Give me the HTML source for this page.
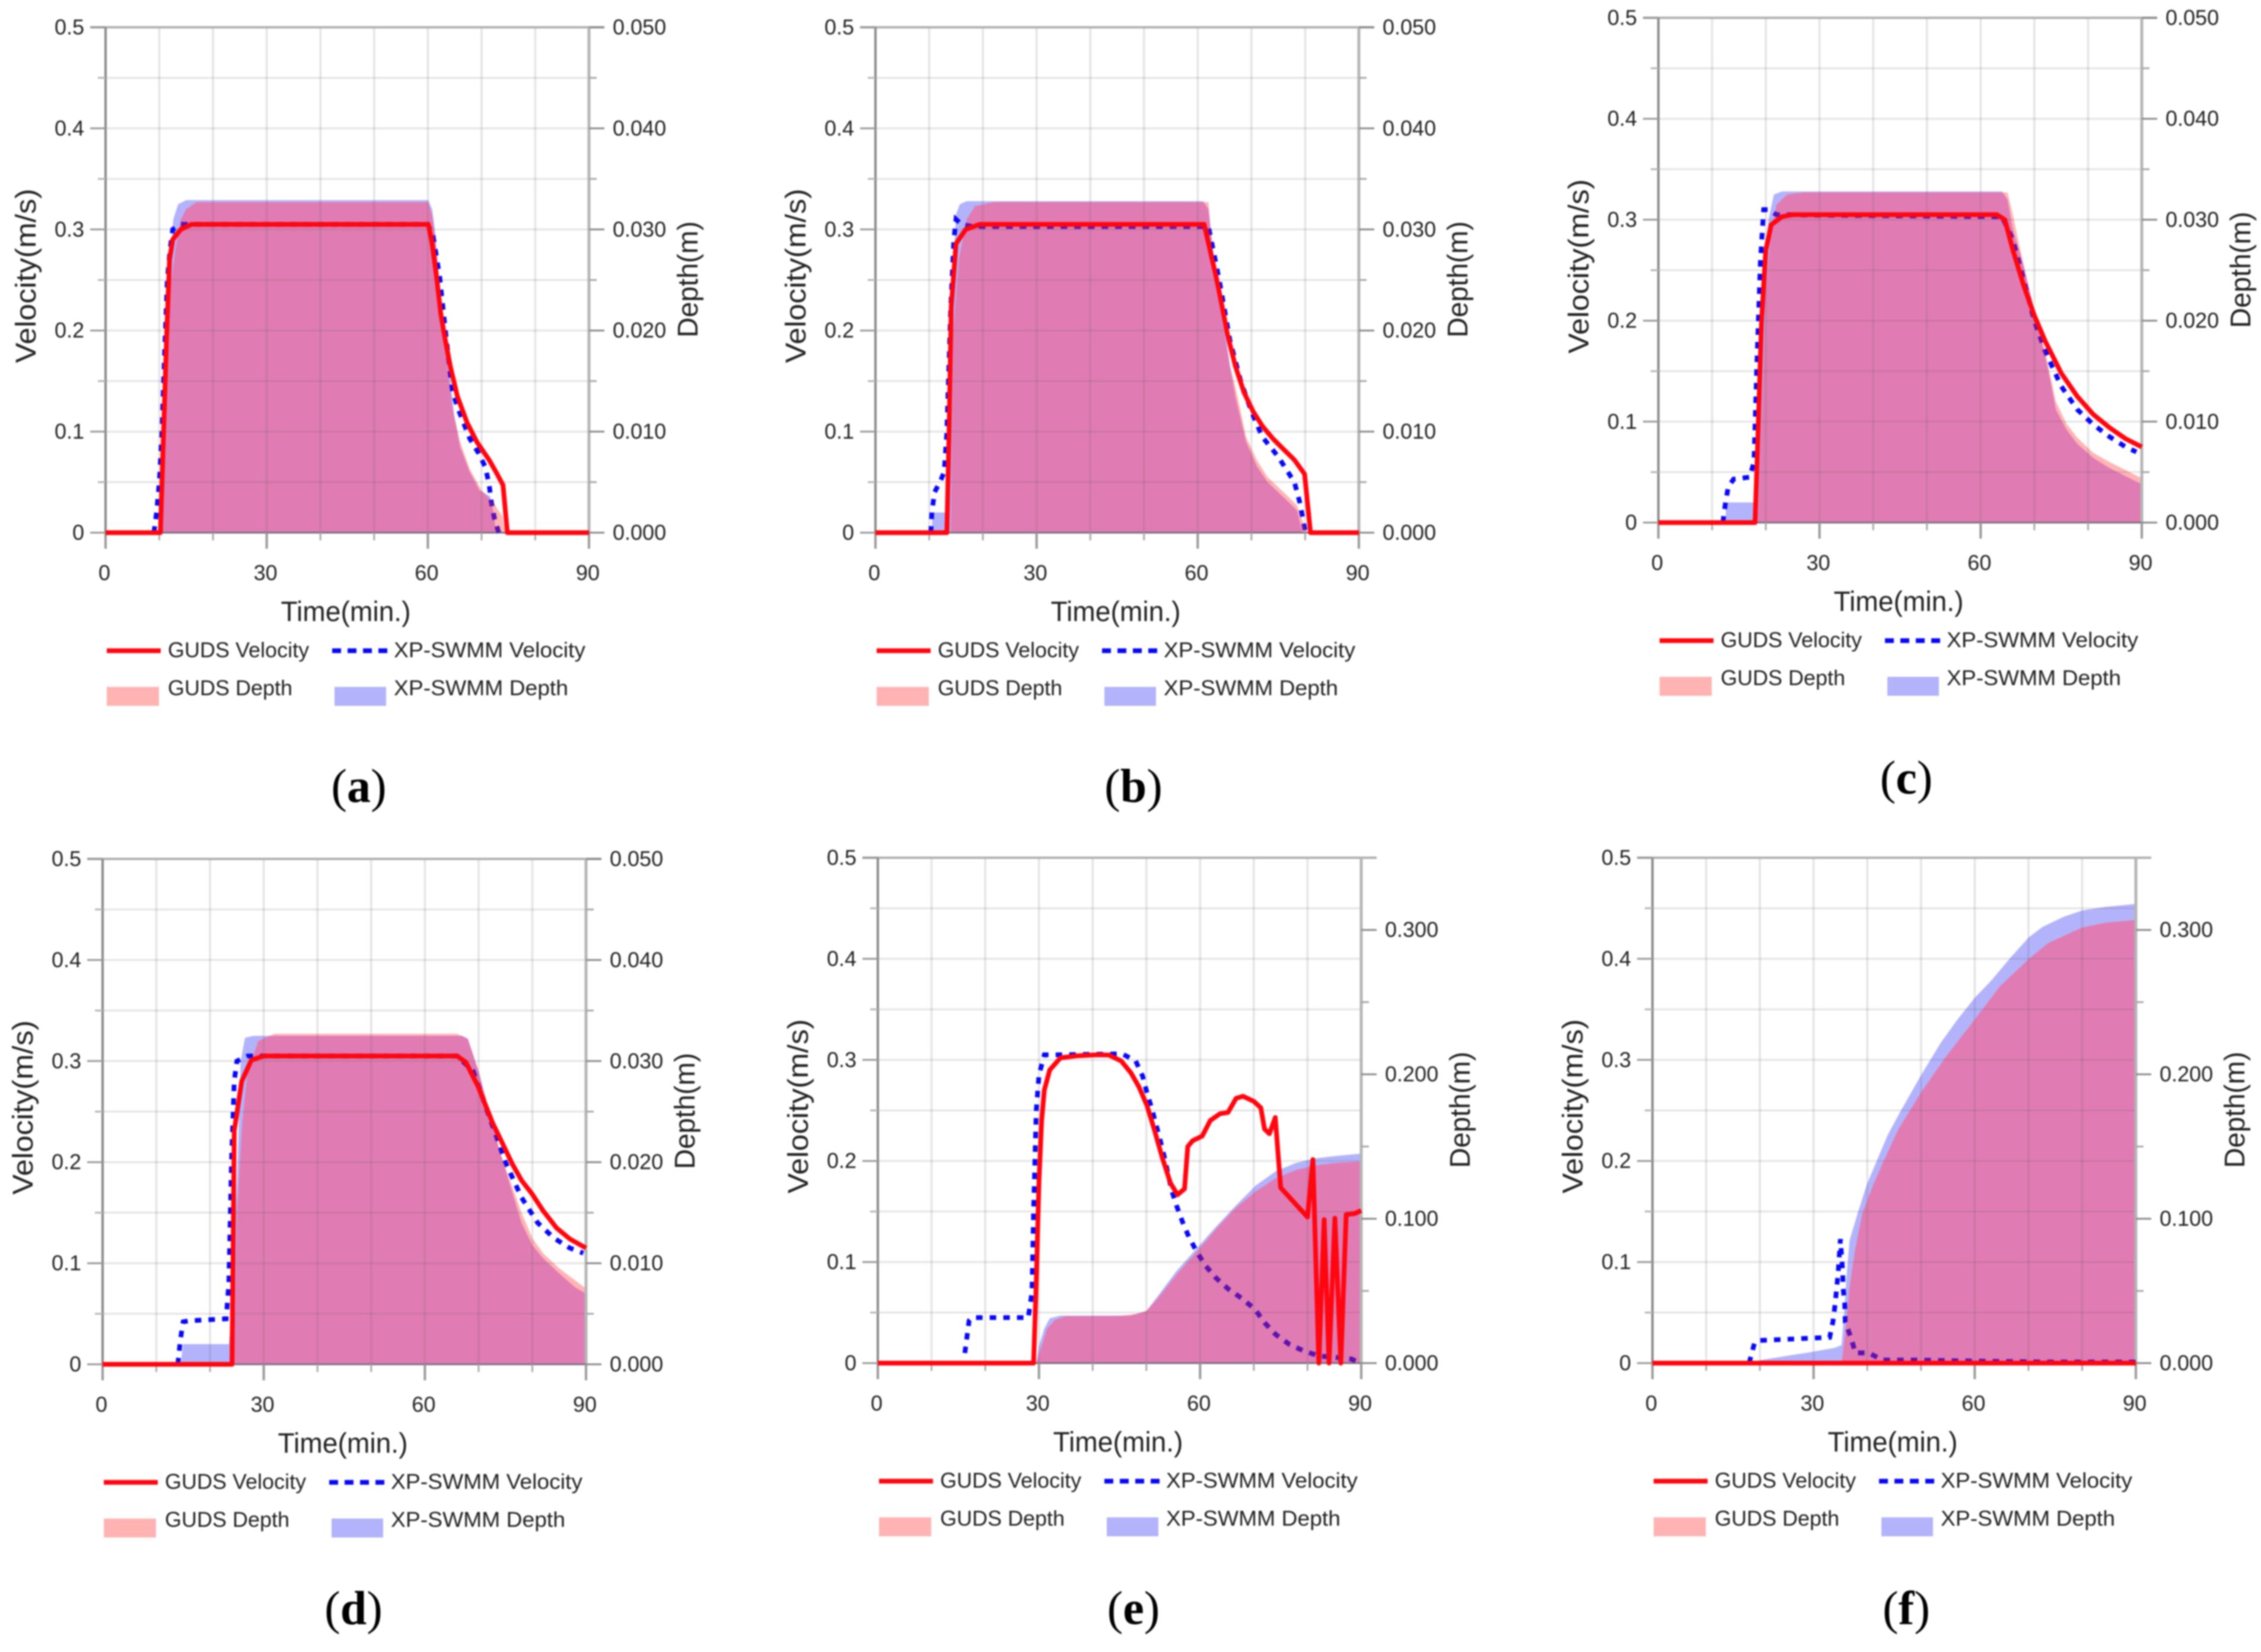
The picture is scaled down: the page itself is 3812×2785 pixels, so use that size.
<!DOCTYPE html>
<html lang="en">
<head>
<meta charset="utf-8">
<title>GUDS and XP-SWMM velocity and depth comparison</title>
<style>
html,body{margin:0;padding:0;background:#fff;}
svg{display:block;filter:blur(1.2px);}
text{font-family:"Liberation Sans","Noto Sans CJK KR",sans-serif;fill:#222;}
.caption{font-family:"Liberation Serif","Noto Serif CJK SC",serif;fill:#000;}
</style>
</head>
<body>
<svg id="figure" xmlns="http://www.w3.org/2000/svg" width="3812" height="2785" viewBox="0 0 3812 2785"></svg>
<script>
// Shared tick values and labels
const timeTicksMajor = [0, 30, 60, 90];
const timeTicksMinor = [10, 20, 40, 50, 70, 80];
const timeGrid = [10, 20, 30, 40, 50, 60, 70, 80];
const velocityTicksMajor = [0, 0.1, 0.2, 0.3, 0.4, 0.5];
const velocityTickLabels = ['0', '0.1', '0.2', '0.3', '0.4', '0.5'];
const velocityTicksMinor = [0.05, 0.15, 0.25, 0.35, 0.45];
const shallowDepthTicks = [0, 0.01, 0.02, 0.03, 0.04, 0.05];
const shallowDepthLabels = ['0.000', '0.010', '0.020', '0.030', '0.040', '0.050'];
const shallowDepthMinor = [0.005, 0.015, 0.025, 0.035, 0.045];
const deepDepthTicks = [0, 0.1, 0.2, 0.3];
const deepDepthLabels = ['0.000', '0.100', '0.200', '0.300'];
const deepDepthMinor = [0.05, 0.15, 0.25];

// Panel (a): [minutes, value]
const aGudsVelocity = [[0,0],[10.2,0],[10.8,0.1],[11.4,0.2],[11.9,0.27],[12.5,0.29],[14,0.3],[16,0.305],[60.1,0.305],[60.8,0.286],[61.7,0.25],[62.4,0.217],[63.1,0.195],[64.2,0.164],[65.5,0.135],[67.3,0.109],[69.1,0.09],[71.4,0.072],[72.7,0.06],[74,0.047],[74.8,0],[90,0]];
const aXpVelocity = [[9,0],[9.5,0.02],[10,0.05],[10.5,0.1],[11,0.18],[11.5,0.25],[12,0.28],[12.5,0.3],[14,0.305],[60,0.305],[61,0.293],[62.2,0.253],[63.3,0.198],[64.2,0.157],[64.6,0.14],[65.5,0.1245],[66.7,0.108],[67.8,0.093],[69.4,0.079],[70.7,0.065],[71.4,0.048],[71.8,0.031],[72.4,0.014],[73.2,0]];
const aXpDepth = [[10,0],[10.5,0.005],[11,0.012],[11.5,0.02],[12,0.027],[12.6,0.031],[13.5,0.0325],[15,0.0329],[60.1,0.0329],[60.8,0.032],[61.3,0.03],[62,0.026],[63,0.02],[64.2,0.0152],[64.9,0.0116],[66,0.0085],[67.8,0.006],[69.6,0.0042],[71.6,0.0036],[72.3,0.0018],[72.7,0]];
const aGudsDepth = [[10.5,0],[11,0.008],[11.5,0.018],[12,0.024],[13,0.028],[14,0.031],[15,0.032],[17,0.0327],[60,0.0327],[60.8,0.0315],[61.3,0.0295],[62,0.0255],[63,0.02],[64,0.0147],[64.6,0.0123],[66,0.009],[67.8,0.0063],[70,0.0042],[72.3,0.0029],[73.9,0.0016],[74.3,0]];

// Panel (b)
const bGudsVelocity = [[0,0],[13.3,0],[13.7,0.1],[14.1,0.223],[15,0.286],[16.8,0.3],[19.4,0.305],[61.2,0.305],[63.4,0.254],[64.5,0.225],[65.5,0.197],[67,0.165],[68.6,0.139],[70.3,0.12],[72.1,0.105],[74,0.093],[75.7,0.084],[78,0.072],[79.9,0.058],[81,0],[90,0]];
const bXpVelocity = [[10.3,0],[10.5,0.02],[11,0.04],[12,0.05],[12.8,0.06],[13.3,0.1],[14,0.22],[14.6,0.29],[15,0.31],[16,0.305],[18,0.303],[62,0.303],[64,0.25],[66,0.19],[68,0.15],[70,0.12],[72,0.095],[75,0.075],[78,0.05],[79,0.03],[80,0.002]];
const bXpDepth = [[10.5,0],[10.6,0.002],[13,0.002],[13.5,0.012],[14.3,0.024],[15,0.0315],[15.7,0.0325],[17,0.0328],[61,0.0328],[62,0.032],[63,0.0275],[64,0.024],[65,0.0205],[66,0.0165],[67,0.0135],[69,0.009],[71,0.0066],[73,0.005],[76,0.0035],[78.5,0.0022],[79.5,0]];
const bGudsDepth = [[14,0],[14.5,0.02],[15.5,0.027],[17,0.031],[18.5,0.0323],[22,0.0327],[62,0.0327],[63,0.026],[65,0.0195],[66,0.0165],[67,0.0145],[69,0.0095],[71,0.0072],[73,0.0055],[76,0.004],[78.5,0.0027],[80,0.0005],[80.5,0]];

// Panel (c)
const cGudsVelocity = [[0,0],[18,0],[18.5,0.08],[19.2,0.2],[20,0.27],[21,0.295],[23,0.303],[25,0.305],[63,0.305],[64.5,0.3],[66,0.27],[68,0.235],[70,0.205],[72,0.18],[75,0.148],[78,0.125],[81,0.107],[84,0.094],[87,0.083],[90,0.075]];
const cXpVelocity = [[12,0],[12.5,0.02],[13,0.035],[14,0.043],[17,0.045],[17.8,0.06],[18.3,0.15],[19,0.26],[19.6,0.31],[20.5,0.31],[22,0.305],[64,0.303],[66,0.28],[68,0.24],[70,0.2],[72,0.17],[75,0.135],[78,0.112],[81,0.097],[84,0.085],[87,0.075],[89,0.07]];
const cXpDepth = [[12.5,0],[12.6,0.002],[18,0.002],[18.5,0.008],[19.5,0.025],[20.5,0.03],[21.5,0.0325],[23,0.0328],[64,0.0328],[65,0.032],[66,0.029],[68,0.0255],[70,0.021],[72,0.0165],[73,0.014],[74,0.0112],[76,0.0092],[78,0.0078],[81,0.0064],[84,0.0054],[87,0.0046],[90,0.0038]];
const cGudsDepth = [[18.5,0],[19.5,0.015],[20,0.023],[21,0.029],[22,0.0315],[24,0.0325],[27,0.0327],[65,0.0327],[66,0.0305],[68,0.0255],[70,0.021],[72,0.017],[73,0.0145],[74,0.012],[76,0.0098],[78,0.0084],[81,0.0069],[84,0.006],[87,0.0052],[90,0.0044]];

// Panel (d)
const dGudsVelocity = [[0,0],[24.1,0],[24.5,0.231],[25.9,0.28],[27.7,0.301],[30,0.305],[66,0.305],[67.6,0.299],[69.9,0.275],[72.6,0.239],[74.5,0.218],[76.3,0.198],[78,0.182],[79.9,0.169],[82,0.152],[84.5,0.135],[87,0.124],[90,0.115]];
const dXpVelocity = [[14,0],[14.5,0.025],[15,0.042],[16,0.043],[23,0.045],[23.5,0.08],[24,0.2],[24.5,0.28],[25,0.3],[27,0.305],[66,0.305],[69,0.29],[71,0.26],[73,0.23],[75,0.2],[78,0.165],[81,0.14],[84,0.125],[87,0.115],[89.5,0.11]];
const dXpDepth = [[14.5,0],[15,0.002],[23.5,0.002],[24,0.005],[25,0.018],[25.7,0.03],[26.5,0.0323],[28,0.0325],[67,0.0325],[68,0.0322],[70,0.029],[72,0.025],[74,0.021],[76,0.0175],[78,0.014],[80,0.0118],[82,0.0105],[85,0.009],[88,0.0076],[90,0.007]];
const dGudsDepth = [[24.5,0],[25,0.015],[26,0.024],[27,0.029],[29,0.032],[32,0.0327],[66,0.0327],[68,0.0322],[70,0.029],[72,0.025],[74,0.021],[76,0.018],[78,0.015],[80,0.0125],[82,0.011],[85,0.0095],[88,0.0083],[90,0.0075]];

// Panel (e)
const eGudsVelocity = [[0,0],[29,0],[29.5,0.08],[30,0.18],[30.5,0.24],[31,0.27],[32,0.29],[34,0.302],[37,0.304],[40.8,0.305],[43,0.3048],[45.3,0.299],[47.1,0.2874],[48.6,0.2735],[50.1,0.255],[51.5,0.2305],[53,0.2026],[54.5,0.178],[55.8,0.1666],[57.1,0.1724],[57.7,0.2142],[58.6,0.22],[60.4,0.2247],[61.9,0.24],[63.7,0.2467],[65.2,0.248],[66.7,0.262],[68,0.264],[70,0.259],[71.3,0.2526],[72,0.2316],[72.9,0.227],[74,0.243],[75,0.1736],[80,0.1445],[81,0.2014],[82.1,0],[83.1,0.142],[84,0],[85.1,0.1434],[86.2,0],[87.2,0.147],[88.8,0.148],[90,0.151]];
const eXpVelocity = [[16.2,0.01],[17,0.042],[17.5,0.045],[28,0.045],[28.7,0.07],[29,0.15],[29.5,0.25],[30,0.285],[31,0.305],[33,0.305],[45.5,0.306],[48,0.299],[49.3,0.284],[50.1,0.2677],[51,0.252],[51.8,0.236],[52.6,0.22],[53.4,0.2026],[54.7,0.171],[55.6,0.156],[56.7,0.14],[57.9,0.125],[59.4,0.11],[61,0.0964],[63,0.0841],[65.3,0.0732],[67.8,0.0639],[70.2,0.0534],[72,0.04],[74.1,0.0283],[76.6,0.0186],[79.3,0.0121],[82.2,0.007],[85.1,0.0058],[88.2,0.004],[89,0.002]];
const eXpDepth = [[29.5,0],[30,0.012],[31,0.024],[32,0.031],[34,0.0329],[47,0.0329],[50,0.0361],[52,0.0459],[55.6,0.0638],[59.3,0.0792],[63,0.0947],[66.7,0.1093],[70.4,0.1231],[74.1,0.1329],[77.8,0.1386],[81.5,0.1418],[85.1,0.1434],[90,0.1451]];
const eGudsDepth = [[29.5,0],[30.5,0.012],[31.5,0.024],[33,0.03],[35,0.0325],[45,0.0327],[48,0.034],[50,0.0361],[52,0.0442],[55.6,0.0613],[59.3,0.0768],[63,0.093],[66.7,0.1077],[70.4,0.119],[74.1,0.128],[77.8,0.1337],[81.5,0.137],[85.1,0.1386],[90,0.1397]];

// Panel (f)
const fGudsVelocity = [[0,0],[90,0]];
const fXpVelocity = [[18,0],[18.5,0.01],[19,0.02],[20,0.0224],[33,0.0255],[33.6,0.041],[34,0.058],[34.3,0.074],[34.6,0.091],[35,0.1227],[35.4,0.091],[35.5,0.074],[35.8,0.058],[35.9,0.0405],[36.9,0.026],[37.8,0.0101],[40.3,0.0101],[42.8,0.003],[50,0.003],[60,0.002],[75,0.001],[90,0.001]];
const fXpDepth = [[18,0],[20,0.002],[25,0.005],[29.3,0.0075],[34,0.0107],[35.2,0.0125],[35.7,0.035],[36.1,0.059],[36.7,0.085],[38.3,0.105],[39.9,0.1235],[41.7,0.1396],[43.8,0.158],[46.2,0.1746],[50.1,0.2],[53.7,0.222],[56.8,0.238],[60,0.253],[63.1,0.265],[66.7,0.281],[70.1,0.295],[72.6,0.302],[76.5,0.309],[80,0.3135],[84.4,0.316],[90,0.318]];
const fGudsDepth = [[35.2,0],[35.7,0.015],[36.1,0.029],[36.7,0.0526],[37.7,0.078],[39.1,0.104],[41.1,0.1235],[43,0.1396],[45.8,0.162],[50.1,0.188],[54.5,0.2115],[60,0.238],[64.7,0.261],[70.1,0.28],[73.7,0.291],[80,0.3017],[84.4,0.305],[90,0.307]];

const legendLabels = ['GUDS Velocity', 'XP-SWMM Velocity', 'GUDS Depth', 'XP-SWMM Depth'];

const panels = [
  {id:'a', left:178, right:993, top:46, bottom:898, depthMax:0.05, gv:aGudsVelocity, xv:aXpVelocity, xd:aXpDepth, gd:aGudsDepth, capX:605, capY:1352},
  {id:'b', left:1476, right:2291, top:46, bottom:898, depthMax:0.05, gv:bGudsVelocity, xv:bXpVelocity, xd:bXpDepth, gd:bGudsDepth, capX:1911, capY:1352},
  {id:'c', left:2796, right:3611, top:30, bottom:881, depthMax:0.05, gv:cGudsVelocity, xv:cXpVelocity, xd:cXpDepth, gd:cGudsDepth, capX:3214, capY:1338},
  {id:'d', left:173, right:988, top:1448, bottom:2300, depthMax:0.05, gv:dGudsVelocity, xv:dXpVelocity, xd:dXpDepth, gd:dGudsDepth, capX:596, capY:2738},
  {id:'e', left:1480, right:2295, top:1446, bottom:2298, depthMax:0.35, gv:eGudsVelocity, xv:eXpVelocity, xd:eXpDepth, gd:eGudsDepth, capX:1911, capY:2738},
  {id:'f', left:2786, right:3601, top:1446, bottom:2298, depthMax:0.35, gv:fGudsVelocity, xv:fXpVelocity, xd:fXpDepth, gd:fGudsDepth, capX:3214, capY:2738}
];

const NS = 'http://www.w3.org/2000/svg';
const figure = document.getElementById('figure');

function make(parent, tag, attrs) {
  const node = document.createElementNS(NS, tag);
  for (const key in attrs) node.setAttribute(key, attrs[key]);
  parent.appendChild(node);
  return node;
}
function straight(parent, x1, y1, x2, y2, color, width, name) {
  const el = make(parent, 'line', {x1:x1, y1:y1, x2:x2, y2:y2, stroke:color, 'stroke-width':width});
  
  
  return el;
}
function label(parent, x, y, str, size, anchor, name) {
  const el = make(parent, 'text', {x:x, y:y, 'font-size':size, 'text-anchor':anchor});
  el.textContent = str;
  
  
  return el;
}
function fitWidth(el, width) {
  el.setAttribute('textLength', width);
  el.setAttribute('lengthAdjust', 'spacingAndGlyphs');
}

panels.forEach(function (p) {
  const xScale = function (t) { return p.left + (t / 90) * (p.right - p.left); };
  const vScale = function (v) { return p.bottom - (v / 0.5) * (p.bottom - p.top); };
  const dScale = function (d) { return p.bottom - (d / p.depthMax) * (p.bottom - p.top); };
  const linePath = function (series, yScale) {
    return series.map(function (pt, i) { return (i ? 'L' : 'M') + xScale(pt[0]).toFixed(1) + ' ' + yScale(pt[1]).toFixed(1); }).join(' ');
  };
  const areaPath = function (series) {
    return linePath(series, dScale) + ' L' + xScale(series[series.length - 1][0]).toFixed(1) + ' ' + p.bottom + ' L' + xScale(series[0][0]).toFixed(1) + ' ' + p.bottom + ' Z';
  };

  const g = make(figure, 'g', {});
  
  

  const clip = make(g, 'clipPath', {id:'guds-clip-' + p.id});
  make(clip, 'path', {d:areaPath(p.gd)});

  // depth areas
  const xpArea = make(g, 'path', {d:areaPath(p.xd), fill:'#b3b3fb'});
  
  
  const gudsArea = make(g, 'path', {d:areaPath(p.gd), fill:'#ffb5b5'});
  
  
  const overlapArea = make(g, 'path', {d:areaPath(p.xd), fill:'#e07cb3', 'clip-path':'url(#guds-clip-' + p.id + ')'});
  
  

  // grid
  velocityTicksMajor.concat(velocityTicksMinor).forEach(function (v) {
    straight(g, p.left, vScale(v), p.right, vScale(v), 'rgba(100,90,100,0.17)', 3, 'horizontal-grid-line');
  });
  timeGrid.forEach(function (t) {
    straight(g, xScale(t), p.top, xScale(t), p.bottom, 'rgba(100,90,100,0.17)', 3.5, 'vertical-grid-line');
  });

  // axes and ticks
  straight(g, p.left - 26, p.top, p.right + 26, p.top, '#b0b0b0', 4, 'top-axis-line');
  straight(g, p.left, p.top, p.left, p.bottom, '#8a8a8a', 4, 'left-axis-line');
  straight(g, p.right, p.top, p.right, p.bottom, '#b5b5b5', 5, 'right-axis-line');
  straight(g, p.left - 26, p.bottom, p.right + 26, p.bottom, '#807080', 3, 'bottom-axis-line');

  velocityTicksMajor.forEach(function (v, i) {
    straight(g, p.left - 26, vScale(v), p.left, vScale(v), '#999', 3, 'velocity-tick');
    label(g, p.left - 36, vScale(v) + 12, velocityTickLabels[i], 36, 'end', 'velocity-tick-label');
  });
  velocityTicksMinor.forEach(function (v) {
    straight(g, p.left - 13, vScale(v), p.left, vScale(v), '#b5b5b5', 3, 'velocity-minor-tick');
  });

  const depthTicks = p.depthMax > 0.1 ? deepDepthTicks : shallowDepthTicks;
  const depthLabels = p.depthMax > 0.1 ? deepDepthLabels : shallowDepthLabels;
  const depthMinor = p.depthMax > 0.1 ? deepDepthMinor : shallowDepthMinor;
  depthTicks.forEach(function (d, i) {
    straight(g, p.right, dScale(d), p.right + 26, dScale(d), '#8a8a8a', 3, 'depth-tick');
    label(g, p.right + 40, dScale(d) + 12, depthLabels[i], 36, 'start', 'depth-tick-label');
  });
  depthMinor.forEach(function (d) {
    straight(g, p.right, dScale(d), p.right + 13, dScale(d), '#a8a8a8', 3, 'depth-minor-tick');
  });

  timeTicksMajor.forEach(function (t) {
    straight(g, xScale(t), p.bottom, xScale(t), p.bottom + 27, '#999', 4, 'time-tick');
    label(g, xScale(t) - 2, p.bottom + 80, String(t), 36, 'middle', 'time-tick-label');
  });
  timeTicksMinor.forEach(function (t) {
    straight(g, xScale(t), p.bottom, xScale(t), p.bottom + 13, '#aaa', 3, 'time-minor-tick');
  });

  // axis titles
  const xt = label(g, p.left + 405, p.bottom + 149, 'Time(min.)', 47, 'middle', 'x-axis-title');
  fitWidth(xt, 219);
  const vt = label(g, 0, 0, 'Velocity(m/s)', 48, 'middle', 'velocity-axis-title');
  vt.setAttribute('transform', 'translate(' + (p.left - 118) + ' ' + (p.top + 419) + ') rotate(-90)');
  fitWidth(vt, 294);
  const dt = label(g, 0, 0, 'Depth(m)', 48, 'middle', 'depth-axis-title');
  dt.setAttribute('transform', 'translate(' + (p.right + 183) + ' ' + (p.top + 425) + ') rotate(-90)');
  fitWidth(dt, 196);

  // velocity lines
  const dashes = '11 12';
  const xpLine = make(g, 'path', {d:linePath(p.xv, vScale), fill:'none', stroke:'#0808f5', 'stroke-width':8, 'stroke-dasharray':dashes});
  
  
  const xpLineInside = make(g, 'path', {d:linePath(p.xv, vScale), fill:'none', stroke:'#5f12ae', 'stroke-width':8, 'stroke-dasharray':dashes, 'clip-path':'url(#guds-clip-' + p.id + ')'});
  
  
  const gudsLine = make(g, 'path', {d:linePath(p.gv, vScale), fill:'none', stroke:'#ff0610', 'stroke-width':8, 'stroke-linejoin':'round'});
  
  

  // legend
  const legend = make(g, 'g', {});
  
  
  straight(legend, p.left + 2, p.bottom + 199, p.left + 93, p.bottom + 199, '#ff0610', 8, 'legend-guds-velocity-line');
  const legendDash = straight(legend, p.left + 382, p.bottom + 199, p.left + 476, p.bottom + 199, '#0808f5', 8, 'legend-xp-swmm-velocity-line');
  legendDash.setAttribute('stroke-dasharray', '15 11');
  const sw1 = make(legend, 'rect', {x:p.left + 2, y:p.bottom + 260, width:88, height:32, fill:'#ffb3b3'});
  
  
  const sw2 = make(legend, 'rect', {x:p.left + 386, y:p.bottom + 260, width:87, height:32, fill:'#b3b3fb'});
  
  
  label(legend, p.left + 105, p.bottom + 210, legendLabels[0], 36, 'start', 'legend-guds-velocity-label');
  const xpv = label(legend, p.left + 486, p.bottom + 210, legendLabels[1], 36, 'start', 'legend-xp-swmm-velocity-label');
  fitWidth(xpv, 323);
  label(legend, p.left + 105, p.bottom + 274, legendLabels[2], 36, 'start', 'legend-guds-depth-label');
  const xpd = label(legend, p.left + 486, p.bottom + 274, legendLabels[3], 36, 'start', 'legend-xp-swmm-depth-label');
  fitWidth(xpd, 294);

  // panel caption
  const cap = make(g, 'text', {x:p.capX, y:p.capY, 'font-size':80, 'text-anchor':'middle', class:'caption'});
  
  
  const open = make(cap, 'tspan', {});
  open.textContent = '(';
  const letter = make(cap, 'tspan', {'font-weight':'bold'});
  letter.textContent = p.id;
  const close = make(cap, 'tspan', {});
  close.textContent = ')';
});
</script>
</body>
</html>
